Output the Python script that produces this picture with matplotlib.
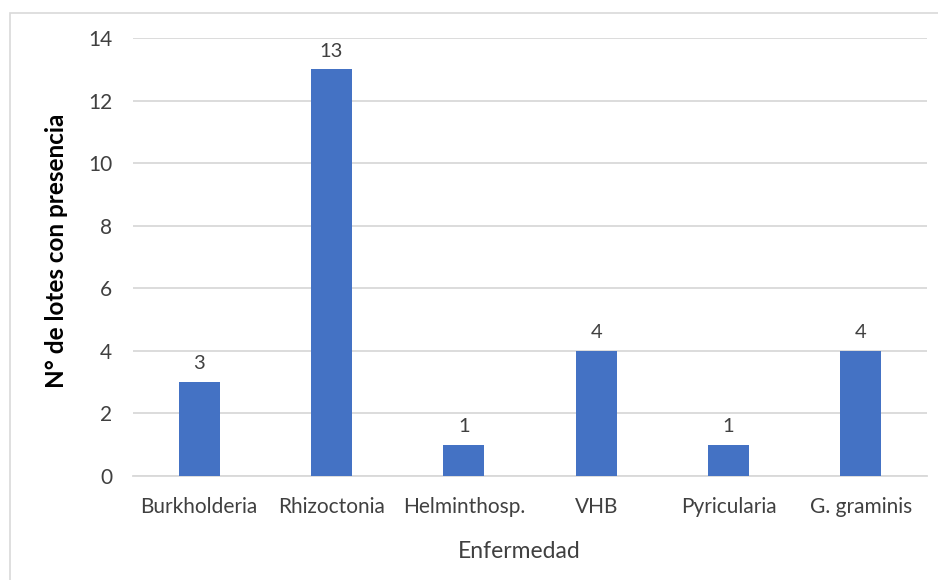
import matplotlib
matplotlib.use("Agg")
import matplotlib.pyplot as plt
from matplotlib.patches import Rectangle

categories = ["Burkholderia", "Rhizoctonia", "Helminthosp.", "VHB", "Pyricularia", "G. graminis"]
values = [3, 13, 1, 4, 1, 4]
yticks = [0, 2, 4, 6, 8, 10, 12, 14]

plt.rcParams["font.family"] = ["Lato", "DejaVu Sans"]

fig = plt.figure(figsize=(9.38, 5.8), dpi=100)
fig.patch.set_facecolor("white")

# chart-area frame
fig.add_artist(Rectangle((10 / 938, -0.1), 1.2, 1 - 13 / 580 + 0.1,
                         transform=fig.transFigure, fill=False,
                         edgecolor="#D9D9D9", linewidth=1.2))

ax = fig.add_axes([133 / 938, 1 - 476 / 580, (927 - 133) / 938, (476 - 38) / 580])
x = list(range(len(categories)))
bars = ax.bar(x, values, width=0.31, color="#4472C4", zorder=3)

for xi, v in zip(x, values):
    ax.annotate(str(v), (xi, v), xytext=(0, 7), textcoords="offset points",
                ha="center", va="bottom", fontsize=14.5, color="#404040")

ax.set_xlim(-0.5, len(categories) - 0.5)
ax.set_ylim(0, 14)
ax.set_yticks(yticks)
ax.set_xticks(x)
ax.set_xticklabels(categories)
ax.tick_params(axis="both", length=0, labelsize=15, colors="#404040")
ax.tick_params(axis="x", pad=15)
ax.tick_params(axis="y", pad=15)
ax.yaxis.grid(True, color="#D9D9D9", linewidth=1.3, zorder=0)
for s in ["top", "right", "left"]:
    ax.spines[s].set_visible(False)
ax.spines["bottom"].set_color("#D9D9D9")
ax.spines["bottom"].set_linewidth(1.3)

fig.text(57 / 938, 1 - 251 / 580, "N° de lotes con presencia", rotation=90,
         ha="center", va="center", fontsize=17.5, fontweight="bold", color="#000000")
fig.text(519 / 938, 1 - 552 / 580, "Enfermedad", ha="center", va="center",
         fontsize=16.5, color="#404040")

fig.savefig("out.png", dpi=100)
